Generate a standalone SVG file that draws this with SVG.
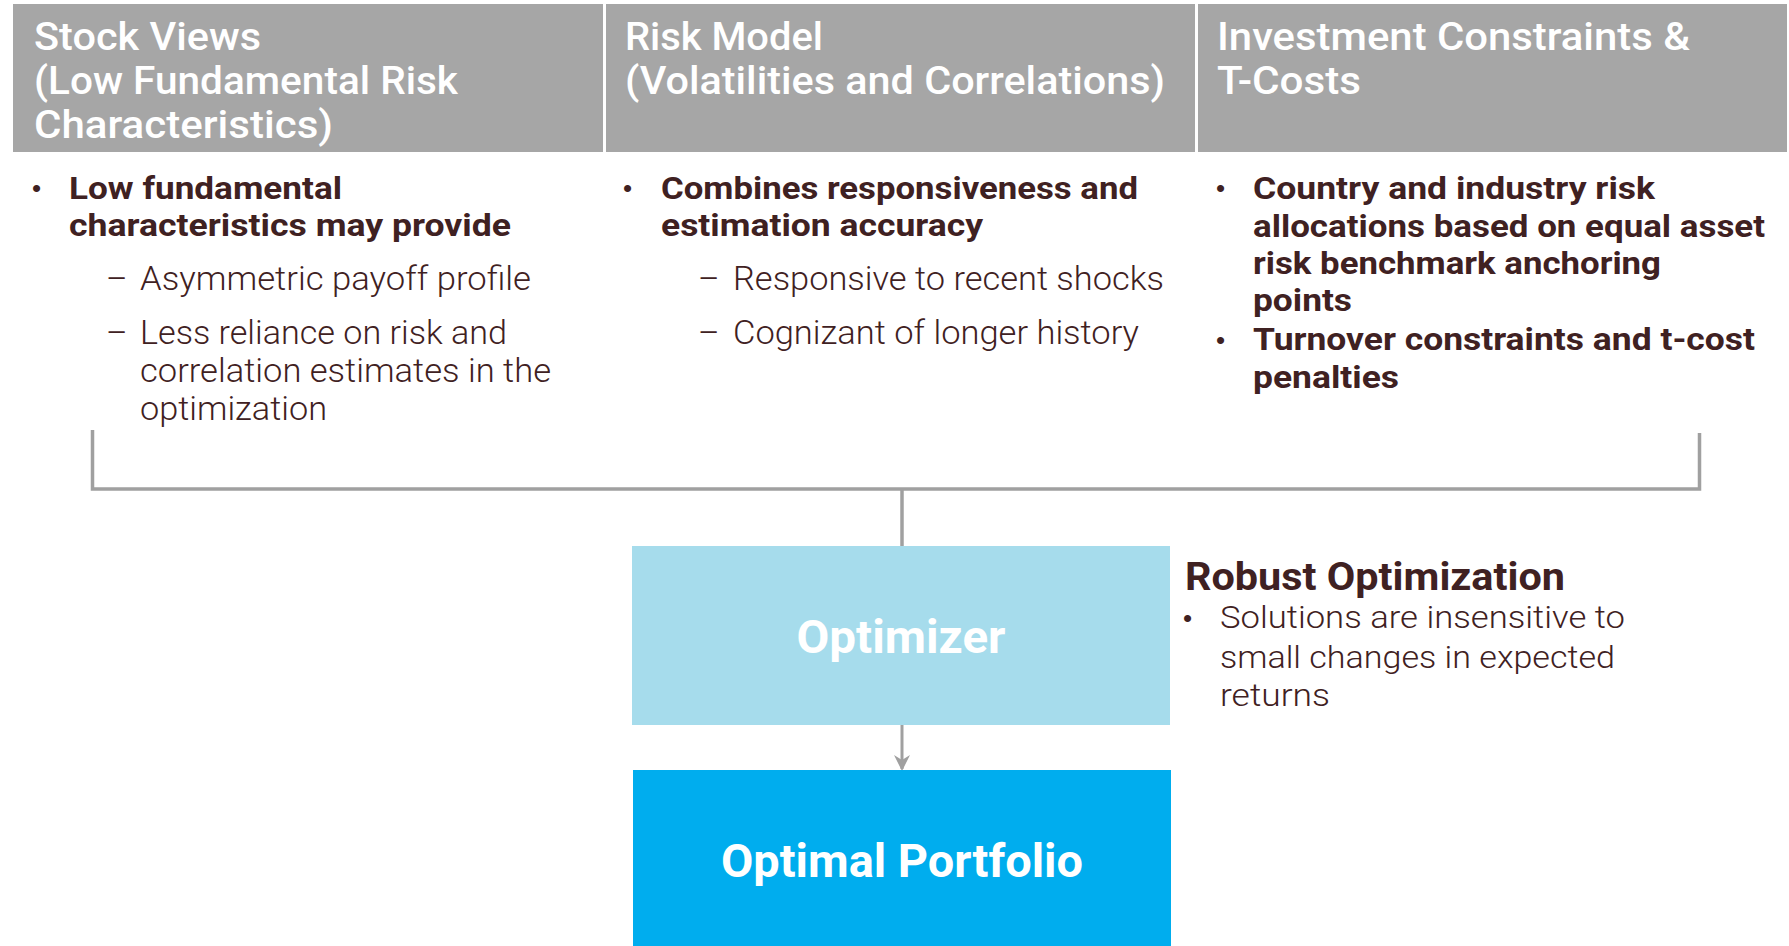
<svg xmlns="http://www.w3.org/2000/svg" width="1789" height="946" viewBox="0 0 1789 946">
<defs>
<style>
.hdr{fill:#a6a6a6}
.ht{font-family:Roboto,"Liberation Sans",sans-serif;font-weight:500;font-size:38px;fill:#ffffff}
.b{font-family:Roboto,"Liberation Sans",sans-serif;font-weight:700;font-size:32px;fill:#3f2122}
.l{font-family:Roboto,"Liberation Sans",sans-serif;font-weight:300;font-size:33px;fill:#3f2122}
.rt{font-family:Roboto,"Liberation Sans",sans-serif;font-weight:700;font-size:38px;fill:#3f2122}
.rl{font-family:Roboto,"Liberation Sans",sans-serif;font-weight:300;font-size:32px;fill:#3f2122}
.dot{font-family:"Liberation Sans",sans-serif;font-size:26px;fill:#3f2122}
.conn{stroke:#a0a0a0;stroke-width:3.5;fill:none}
.bt{font-family:Roboto,"Liberation Sans",sans-serif;font-weight:700;font-size:47px;fill:#ffffff;text-anchor:middle}
</style>
<marker id="arr" markerWidth="16" markerHeight="16" refX="14" refY="8" orient="auto" markerUnits="userSpaceOnUse">
<path d="M0,0 L16,8 L0,16 L5,8 z" fill="#a0a0a0"/>
</marker>
</defs>
<rect width="1789" height="946" fill="#ffffff"/>

<g id="stock-views">
<rect class="hdr" x="13" y="4" width="590" height="148"/>
<text class="ht" x="34" y="50" textLength="227" lengthAdjust="spacingAndGlyphs">Stock Views</text>
<text class="ht" x="34" y="94" textLength="424" lengthAdjust="spacingAndGlyphs">(Low Fundamental Risk</text>
<text class="ht" x="34" y="138" textLength="299" lengthAdjust="spacingAndGlyphs">Characteristics)</text>
<text class="dot" x="32" y="197">•</text>
<text class="b" x="69" y="199" textLength="273" lengthAdjust="spacingAndGlyphs">Low fundamental</text>
<text class="b" x="69" y="236" textLength="442" lengthAdjust="spacingAndGlyphs">characteristics may provide</text>
<text class="l" x="106" y="290">–</text>
<text class="l" x="140" y="290" textLength="391" lengthAdjust="spacingAndGlyphs">Asymmetric payoff profile</text>
<text class="l" x="106" y="344">–</text>
<text class="l" x="140" y="344" textLength="367" lengthAdjust="spacingAndGlyphs">Less reliance on risk and</text>
<text class="l" x="140" y="382" textLength="411" lengthAdjust="spacingAndGlyphs">correlation estimates in the</text>
<text class="l" x="140" y="420" textLength="187" lengthAdjust="spacingAndGlyphs">optimization</text>
</g>

<g id="risk-model">
<rect class="hdr" x="606" y="4" width="589" height="148"/>
<text class="ht" x="625" y="50" textLength="198" lengthAdjust="spacingAndGlyphs">Risk Model</text>
<text class="ht" x="625" y="94" textLength="540" lengthAdjust="spacingAndGlyphs">(Volatilities and Correlations)</text>
<text class="dot" x="623" y="197">•</text>
<text class="b" x="661" y="199" textLength="477" lengthAdjust="spacingAndGlyphs">Combines responsiveness and</text>
<text class="b" x="661" y="236" textLength="322" lengthAdjust="spacingAndGlyphs">estimation accuracy</text>
<text class="l" x="698" y="290">–</text>
<text class="l" x="733" y="290" textLength="431" lengthAdjust="spacingAndGlyphs">Responsive to recent shocks</text>
<text class="l" x="698" y="344">–</text>
<text class="l" x="733" y="344" textLength="406" lengthAdjust="spacingAndGlyphs">Cognizant of longer history</text>
</g>

<g id="constraints">
<rect class="hdr" x="1198" y="4" width="589" height="148"/>
<text class="ht" x="1217" y="50" textLength="473" lengthAdjust="spacingAndGlyphs">Investment Constraints &amp;</text>
<text class="ht" x="1217" y="94" textLength="144" lengthAdjust="spacingAndGlyphs">T-Costs</text>
<text class="dot" x="1216" y="197">•</text>
<text class="b" x="1253" y="199" textLength="402" lengthAdjust="spacingAndGlyphs">Country and industry risk</text>
<text class="b" x="1253" y="237" textLength="512" lengthAdjust="spacingAndGlyphs">allocations based on equal asset</text>
<text class="b" x="1253" y="274" textLength="408" lengthAdjust="spacingAndGlyphs">risk benchmark anchoring</text>
<text class="b" x="1253" y="311" textLength="99" lengthAdjust="spacingAndGlyphs">points</text>
<text class="dot" x="1216" y="349">•</text>
<text class="b" x="1253" y="350" textLength="502" lengthAdjust="spacingAndGlyphs">Turnover constraints and t-cost</text>
<text class="b" x="1253" y="388" textLength="146" lengthAdjust="spacingAndGlyphs">penalties</text>
</g>

<g id="connectors">
<path class="conn" d="M92.5,430 V489 H1699.5 V433"/>
<path class="conn" d="M902,489 V546"/>
<path d="M902,725 V769" stroke="#a0a0a0" stroke-width="3" fill="none" marker-end="url(#arr)"/>
</g>

<g id="optimizer">
<rect x="632" y="546" width="538" height="179" fill="#a6dcec"/>
<text class="bt" x="901" y="653" textLength="209" lengthAdjust="spacingAndGlyphs">Optimizer</text>
</g>

<g id="robust">
<text class="rt" x="1185" y="590" textLength="380" lengthAdjust="spacingAndGlyphs">Robust Optimization</text>
<text class="dot" x="1183" y="627">•</text>
<text class="rl" x="1220" y="628" textLength="405" lengthAdjust="spacingAndGlyphs">Solutions are insensitive to</text>
<text class="rl" x="1220" y="668" textLength="395" lengthAdjust="spacingAndGlyphs">small changes in expected</text>
<text class="rl" x="1220" y="706" textLength="110" lengthAdjust="spacingAndGlyphs">returns</text>
</g>

<g id="optimal-portfolio">
<rect x="633" y="770" width="538" height="176" fill="#00adee"/>
<text class="bt" x="902" y="877" textLength="362" lengthAdjust="spacingAndGlyphs">Optimal Portfolio</text>
</g>
</svg>
